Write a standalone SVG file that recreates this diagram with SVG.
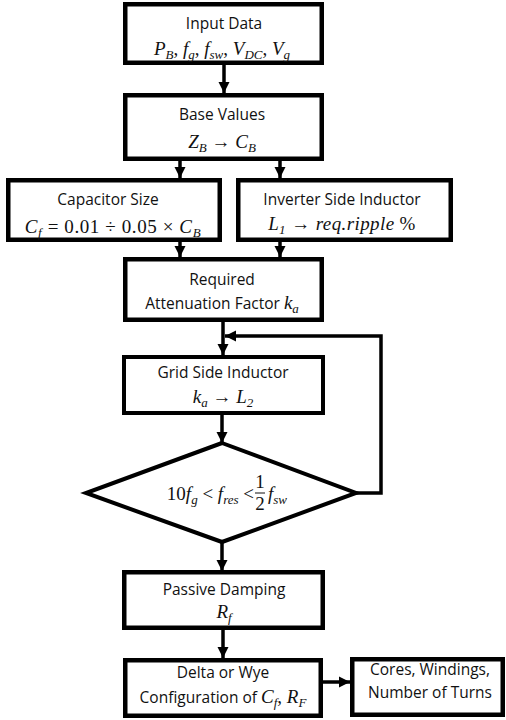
<svg xmlns="http://www.w3.org/2000/svg" width="506" height="720" viewBox="0 0 506 720">
<style>
.box{fill:#fff;stroke:#000;stroke-width:4.5}
.t{font-family:"Open Sans","Liberation Sans",sans-serif;font-size:15.5px;fill:#111;text-anchor:middle}
.m{font-family:"Liberation Serif","DejaVu Serif",serif;font-size:19px;fill:#111;text-anchor:middle}
.i{font-style:italic}
.s{font-size:13px;font-style:italic}
.c{fill:none;stroke:#000;stroke-width:3.5}
</style>
<defs>
<marker id="ah" markerUnits="userSpaceOnUse" markerWidth="12" markerHeight="12" refX="11" refY="6" orient="auto">
<path d="M0,0.5 L11,6 L0,11.5 z" fill="#000"/>
</marker>
</defs>
<rect width="506" height="720" fill="#fff"/>

<g id="connectors">
<line class="c" x1="224" y1="65" x2="224" y2="93" marker-end="url(#ah)"/>
<line class="c" x1="180" y1="161" x2="180" y2="178" marker-end="url(#ah)"/>
<line class="c" x1="280" y1="161" x2="280" y2="178" marker-end="url(#ah)"/>
<line class="c" x1="180" y1="242" x2="180" y2="257" marker-end="url(#ah)"/>
<line class="c" x1="280" y1="242" x2="280" y2="257" marker-end="url(#ah)"/>
<line class="c" x1="223" y1="322" x2="223" y2="355" marker-end="url(#ah)"/>
<polyline class="c" points="356,493 381,493 381,336 225,336" marker-end="url(#ah)"/>
<line class="c" x1="222" y1="415" x2="222" y2="443" marker-end="url(#ah)"/>
<line class="c" x1="222" y1="542" x2="222" y2="571" marker-end="url(#ah)"/>
<line class="c" x1="223" y1="630" x2="223" y2="658" marker-end="url(#ah)"/>
<line class="c" x1="323" y1="682" x2="350" y2="682" marker-end="url(#ah)"/>
</g>

<g id="input">
<rect class="box" x="125.25" y="4.25" width="196.5" height="58.5"/>
<text class="t" x="224" y="29">Input Data</text>
<text class="m" x="222" y="55"><tspan class="i">P</tspan><tspan class="s" dy="4">B</tspan><tspan dy="-4">, </tspan><tspan class="i">f</tspan><tspan class="s" dy="4">g</tspan><tspan dy="-4">, </tspan><tspan class="i">f</tspan><tspan class="s" dy="4">sw</tspan><tspan dy="-4">, </tspan><tspan class="i">V</tspan><tspan class="s" dy="4">DC</tspan><tspan dy="-4">, </tspan><tspan class="i">V</tspan><tspan class="s" dy="4">g</tspan></text>
</g>

<g id="base">
<rect class="box" x="125.25" y="95.25" width="196.5" height="63.5"/>
<text class="t" x="222" y="120">Base Values</text>
<text class="m" x="222" y="148"><tspan class="i">Z</tspan><tspan class="s" dy="4">B</tspan><tspan dy="-4"> → </tspan><tspan class="i">C</tspan><tspan class="s" dy="4">B</tspan></text>
</g>

<g id="capacitor">
<rect class="box" x="8.25" y="180.25" width="211.5" height="59.5"/>
<text class="t" x="108" y="205">Capacitor Size</text>
<text class="m" x="113" y="233" style="letter-spacing:0.6px"><tspan class="i">C</tspan><tspan class="s" dy="4">f</tspan><tspan dy="-4"> = 0.01 ÷ 0.05 × </tspan><tspan class="i">C</tspan><tspan class="s" dy="4">B</tspan></text>
</g>

<g id="inverter">
<rect class="box" x="238.25" y="180.25" width="212.5" height="59.5"/>
<text class="t" x="342" y="205">Inverter Side Inductor</text>
<text class="m" x="342" y="230" style="letter-spacing:0.4px"><tspan class="i">L</tspan><tspan class="s" dy="4" font-style="normal">1</tspan><tspan dy="-4"> → </tspan><tspan class="i">req.ripple</tspan><tspan> %</tspan></text>
</g>

<g id="required">
<rect class="box" x="125.25" y="259.25" width="196.5" height="60.5"/>
<text class="t" x="222" y="285">Required</text>
<text class="t" x="222" y="309">Attenuation Factor <tspan class="m i" style="text-anchor:start">k</tspan><tspan class="m s" dy="4" style="text-anchor:start">a</tspan></text>
</g>

<g id="grid">
<rect class="box" x="124" y="357" width="199" height="56" style="stroke-width:4"/>
<text class="t" x="223" y="378">Grid Side Inductor</text>
<text class="m" x="223" y="403"><tspan class="i">k</tspan><tspan class="s" dy="4">a</tspan><tspan dy="-4"> → </tspan><tspan class="i">L</tspan><tspan class="s" dy="4" font-style="normal">2</tspan></text>
</g>

<g id="decision">
<polygon class="box" points="222,443 356,493 222,542 86,493" style="stroke-width:4"/>
<text class="m" x="254" y="500" style="text-anchor:end">10<tspan class="i">f</tspan><tspan class="s" dy="4">g</tspan><tspan dy="-4"> &lt; </tspan><tspan class="i">f</tspan><tspan class="s" dy="4">res</tspan><tspan dy="-4"> &lt;</tspan></text>
<text class="m" x="260" y="488">1</text>
<line x1="255" y1="493" x2="265" y2="493" stroke="#111" stroke-width="1"/>
<text class="m" x="260" y="510">2</text>
<text class="m" x="268" y="500" style="text-anchor:start"><tspan class="i">f</tspan><tspan class="s" dy="4">sw</tspan></text>
</g>

<g id="passive">
<rect class="box" x="124.25" y="572.25" width="198.5" height="55.5"/>
<text class="t" x="224" y="595">Passive Damping</text>
<text class="m" x="224" y="618"><tspan class="i">R</tspan><tspan class="s" dy="4">f</tspan></text>
</g>

<g id="delta">
<rect class="box" x="125.25" y="660.25" width="195.5" height="55.5"/>
<text class="t" x="223" y="678">Delta or Wye</text>
<text class="t" x="223" y="703">Configuration of <tspan class="m i" style="text-anchor:start">C</tspan><tspan class="m s" dy="4">f</tspan><tspan class="m" dy="-4">, </tspan><tspan class="m i">R</tspan><tspan class="m s" dy="4">F</tspan></text>
</g>

<g id="cores">
<rect class="box" x="352.25" y="659.25" width="150.5" height="55.5"/>
<text class="t" x="430" y="675">Cores, Windings,</text>
<text class="t" x="430" y="698">Number of Turns</text>
</g>
</svg>
